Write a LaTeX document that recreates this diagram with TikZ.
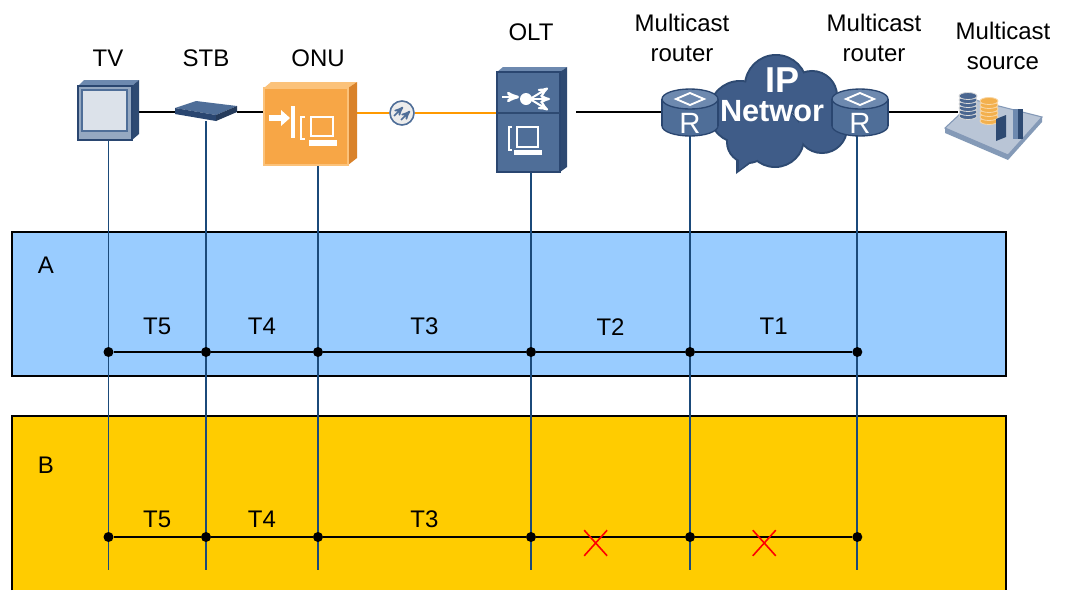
\documentclass[tikz,border=0pt]{standalone}
\usepackage{fontspec}
\setmainfont{Liberation Sans}
\usetikzlibrary{positioning,calc,arrows,shapes.misc}

\definecolor{bandA}{HTML}{99CCFF}
\definecolor{bandB}{HTML}{FFCC00}
\definecolor{dropline}{HTML}{1B4A7A}
\definecolor{fiberline}{HTML}{FF9900}
\definecolor{devface}{HTML}{4F6E98}
\definecolor{devtop}{HTML}{6D89AF}
\definecolor{devside}{HTML}{2E4A72}
\definecolor{devline}{HTML}{2A4670}
\definecolor{onuface}{HTML}{F7A646}
\definecolor{onutop}{HTML}{FBC27A}
\definecolor{onuside}{HTML}{D9822A}
\definecolor{cloudfill}{HTML}{3F5C88}
\definecolor{diskblue}{HTML}{4A6690}
\definecolor{diskorange}{HTML}{F3B04D}

% router: cylinder with a diamond on top and an R on the front
\newcommand{\routericon}[1]{%
  \begin{scope}[shift={(#1)}]
    \filldraw[fill=devface, draw=devline, line width=1pt] (0,14) ellipse (28 and 10);
    \fill[devface] (-28,-13) rectangle (28,14);
    \draw[devline, line width=1pt] (-28,-13) -- (-28,14) (28,-13) -- (28,14);
    \filldraw[fill=devtop, draw=devline, line width=1pt] (0,-13) ellipse (28 and 10);
    \draw[white, line width=1.4pt] (-14,-13) -- (0,-19) -- (14,-13) -- (0,-7) -- cycle;
    \node[text=white, font=\fontsize{22}{22}\selectfont] (#1-r) at (0,11) {R};
  \end{scope}}

\begin{document}
\begin{tikzpicture}[x=0.75pt, y=-0.75pt,
    devbox/.style={inner sep=0pt, outer sep=0pt},
    lbl/.style={font=\fontsize{18}{23}\selectfont, align=center},
    drop/.style={dropline, line width=1.4pt},
    link/.style={black, line width=2.2pt},
    fiber/.style={fiberline, line width=2.2pt},
    row/.style={black, line width=1.4pt},
    dot/.style={circle, fill=black, inner sep=0pt, minimum size=7.5pt},
    tl/.style={midway, yshift=#1, font=\fontsize{18}{18}\selectfont},
    tl/.default=19pt,
    cut/.style={cross out, draw=red, line width=1.2pt, minimum width=16pt,
                minimum height=18pt, inner sep=0pt, yshift=-4.5pt}]

  \fill[white] (0,0) rectangle (1066,590);
  \useasboundingbox (0,0) rectangle (1066,590);

  % the two bands
  \filldraw[fill=bandA, draw=black, line width=1.2pt] (12,232) rectangle (1006,376);
  \fill[bandB] (12,416) rectangle (1006,590);
  \draw[black, line width=1.2pt] (12,590) -- (12,416) -- (1006,416) -- (1006,590);
  \node[lbl] (A) at (46,265) {A};
  \node[lbl] (B) at (46,465) {B};

  % devices
  \node[devbox, minimum width=45.75pt, minimum height=45pt] (tv) at (108.5,110) {};
  \node[devbox, minimum width=46.5pt, minimum height=13.5pt] (stb) at (206,112) {};
  \node[devbox, minimum width=69.75pt, minimum height=62.25pt] (onu) at (310.5,123.5) {};
  \node[devbox, circle, minimum size=19.5pt] (fib) at (402,113) {};
  \node[devbox, minimum width=52.5pt, minimum height=78.75pt] (olt) at (532,119.5) {};
  \node[devbox, minimum width=42pt, minimum height=36pt] (r1) at (690,112) {};
  \node[devbox, minimum width=42pt, minimum height=36pt] (r2) at (860,112) {};
  \node[devbox, minimum width=72.75pt, minimum height=40pt] (src) at (993,117) {};

  \coordinate (rowA) at (0,352);
  \coordinate (rowB) at (0,537);
  \coordinate (bot) at (0,570);
  \coordinate (p1) at (tv.south);
  \coordinate (p2) at (stb.south);
  \coordinate (p3) at ([xshift=5.6pt]onu.south);
  \coordinate (p4) at ([xshift=-0.75pt]olt.south);
  \coordinate (p5) at (r1.south);
  \coordinate (p6) at ([xshift=-2pt]r2.south);

  \foreach \i in {1,...,6}
    \draw[drop] (p\i) -- (p\i |- bot);
  \foreach \i in {1,...,6} {
    \node[dot] (a\i) at (p\i |- rowA) {};
    \node[dot] (b\i) at (p\i |- rowB) {};
  }

  \draw[row] (a1) -- node[tl] (tA5) {T5} (a2) -- node[tl] (tA4) {T4} (a3)
             -- node[tl] (tA3) {T3} (a4) -- node[tl] (tA2) {T2} (a5)
             -- node[tl] (tA1) {T1} (a6);
  \draw[row] (b1) -- node[tl=13pt] (tB5) {T5} (b2) -- node[tl=13pt] (tB4) {T4} (b3)
             -- node[tl=13pt] (tB3) {T3} (b4) -- node[cut, pos=0.4] (xB2) {} (b5)
             -- node[cut, pos=0.44] (xB1) {} (b6);

  % links between the devices
  \draw[link] (tv.east |- stb.west) -- (stb.west);
  \draw[link] (stb.east) -- (onu.west |- stb.east);
  \draw[fiber] (onu.east |- fib.west) -- (fib.west);
  \draw[fiber] (fib.east) -- (olt.west |- fib.east);
  \draw[link] ([xshift=7pt]olt.east |- r1.west) -- (r1.west);
  \draw[link] (r2.east) -- ([xshift=10pt]src.west |- r2.east);

  % TV
  \fill[devtop] (78,86) -- (84,80) -- (139,80) -- (132,86) -- cycle;
  \fill[devside] (132,86) -- (139,80) -- (139,134) -- (132,140) -- cycle;
  \filldraw[fill=devface!60, draw=devline, line width=0.8pt] (78,86) rectangle (132,140);
  \filldraw[fill=devface!20, draw=devface, line width=0.8pt] (82,90) rectangle (127,131);

  % STB
  \fill[devface] (175,108) -- (196,101) -- (237,106) -- (216,115) -- cycle;
  \fill[devline] (175,108) -- (216,115) -- (216,121) -- (175,114) -- cycle;
  \fill[devside!80!black] (216,115) -- (237,106) -- (237,112) -- (216,121) -- cycle;

  % ONU
  \fill[onutop] (264,88) -- (271,82) -- (357,82) -- (348,88) -- cycle;
  \fill[onuside] (348,88) -- (357,82) -- (357,158) -- (348,165) -- cycle;
  \filldraw[fill=onuface, draw=onutop, line width=1pt] (264,88) rectangle (348,165);
  \fill[white] (269,115) rectangle (281,121);
  \fill[white] (281,110) -- (290,118) -- (281,126) -- cycle;
  \fill[white] (291,106) rectangle (295,138);
  \draw[white, line width=2.2pt] (305,117) -- (301,117) -- (301,139) -- (305,139);
  \draw[white, line width=2.2pt] (311,117) rectangle (333,136);
  \fill[white] (309,140) rectangle (337,146);

  % fibre
  \filldraw[fill=gray!15, draw=devface, line width=1.2pt] (fib) circle (12);
  \draw[devface, line width=1.3pt, ->, >=stealth'] (394,116) -- (403,107);
  \draw[devface, line width=1.3pt, ->, >=stealth'] (401,120) -- (410,111);

  % OLT
  \fill[devtop] (497,72) -- (503,67) -- (567,67) -- (560,72) -- cycle;
  \fill[devside] (560,72) -- (567,67) -- (567,167) -- (560,172) -- cycle;
  \filldraw[fill=devface, draw=devline, line width=0.8pt] (497,72) rectangle (560,172);
  \draw[devside, line width=1.5pt] (497,113) -- (560,113);
  \draw[white, line width=2pt, ->, >=stealth'] (502,97) -- (519,97);
  \fill[white] (526,99) circle (6);
  \draw[white, line width=1.5pt, ->, >=stealth'] (530,99) -- (548,88);
  \draw[white, line width=1.5pt, ->, >=stealth'] (530,99) -- (550,99);
  \draw[white, line width=1.5pt, ->, >=stealth'] (530,99) -- (548,110);
  \draw[white, line width=2.2pt] (512,127) -- (509,127) -- (509,150) -- (512,150);
  \draw[white, line width=2.2pt] (517,127) rectangle (538,147);
  \fill[white] (514,150) rectangle (542,155);

  % IP network cloud
  \fill[devside] (736,142) -- (766,152) -- (736,174) -- cycle;
  \foreach \cx/\cy/\r in {740/112/30, 776/86/30, 812/96/24, 822/128/24, 775/138/28, 748/142/20}
    \draw[devside, line width=3pt] (\cx,\cy) circle (\r);
  \foreach \cx/\cy/\r in {740/112/30, 776/86/30, 812/96/24, 822/128/24, 775/138/28, 748/142/20}
    \fill[cloudfill] (\cx,\cy) circle (\r);
  \fill[cloudfill] (739,144) -- (762,152) -- (739,170) -- cycle;
  \node[text=white, font=\bfseries\fontsize{27}{27}\selectfont] (ip) at (782,80) {IP};
  \node[text=white, font=\bfseries\fontsize{23}{23}\selectfont] (net) at (772,111) {Networ};

  \routericon{r1}
  \routericon{r2}

  % multicast source
  \fill[devface!70] (945,128) -- (1008,155) -- (1042,117) -- (1042,122) -- (1008,160) -- (945,133) -- cycle;
  \filldraw[fill=devface!40, draw=devface!70, line width=0.8pt] (945,128) -- (975,100) -- (1042,117) -- (1008,155) -- cycle;
  \foreach \k in {0,...,5}
    \filldraw[fill=diskblue, draw=gray!30, line width=0.6pt] (968,116-4*\k) ellipse (9 and 3.5);
  \foreach \k in {0,...,5}
    \filldraw[fill=diskorange, draw=diskorange!50, line width=0.6pt] (989,121-4*\k) ellipse (9 and 3.5);
  \fill[devside] (996,119) -- (1006,115) -- (1006,137) -- (996,141) -- cycle;
  \fill[devtop] (1013,109) rectangle (1023,139);
  \fill[devside] (1018,109) rectangle (1023,139);

  % device labels
  \node[lbl] (tv-l) at (108,58) {TV};
  \node[lbl] (stb-l) at (206,58) {STB};
  \node[lbl] (onu-l) at (318,58) {ONU};
  \node[lbl] (olt-l) at (531,32) {OLT};
  \node[lbl] (r1-l) at (682,38) {Multicast\\router};
  \node[lbl] (r2-l) at (874,38) {Multicast\\router};
  \node[lbl] (src-l) at (1003,46) {Multicast\\source};
\end{tikzpicture}
\end{document}
